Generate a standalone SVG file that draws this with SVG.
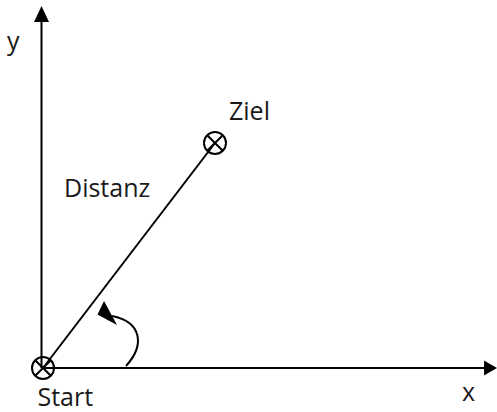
<svg xmlns="http://www.w3.org/2000/svg" width="497" height="412" viewBox="0 0 497 412">
<style>
.ln{stroke:#000;stroke-width:2;fill:none}
.t{font-family:"Open Sans","DejaVu Sans",sans-serif;font-size:25px;fill:#1a1a1a}
</style>
<rect width="497" height="412" fill="#fff"/>
<g id="connectors">
<line class="ln" x1="41.5" y1="368" x2="41.5" y2="22"/>
<path d="M34,22 L41.5,6 L49,22 Z" fill="#000"/>
<line class="ln" x1="43" y1="368" x2="484" y2="368"/>
<path d="M484,360.5 L497,368 L484,375.5 Z" fill="#000"/>
<line class="ln" x1="43" y1="368" x2="215" y2="143"/>
<path class="ln" d="M126,366 C145,345 142,322 112,316"/>
<path d="M104,301 L97.5,314.5 L117,325 Z" fill="#000"/>
</g>
<g id="start">
<circle class="ln" cx="43" cy="368" r="11" stroke-width="2.3"/>
<line class="ln" x1="35.2" y1="360.2" x2="50.8" y2="375.8"/>
<line class="ln" x1="50.8" y1="360.2" x2="35.2" y2="375.8"/>
<text class="t" x="37.5" y="405.5">Start</text>
</g>
<g id="ziel">
<circle class="ln" cx="215" cy="143" r="11" stroke-width="2.3"/>
<line class="ln" x1="207.2" y1="135.2" x2="222.8" y2="150.8"/>
<line class="ln" x1="222.8" y1="135.2" x2="207.2" y2="150.8"/>
<text class="t" x="229" y="120">Ziel</text>
</g>
<g id="labels">
<text class="t" x="64" y="196.5">Distanz</text>
<text class="t" x="7" y="50">y</text>
<text class="t" x="462" y="401">x</text>
</g>
</svg>
